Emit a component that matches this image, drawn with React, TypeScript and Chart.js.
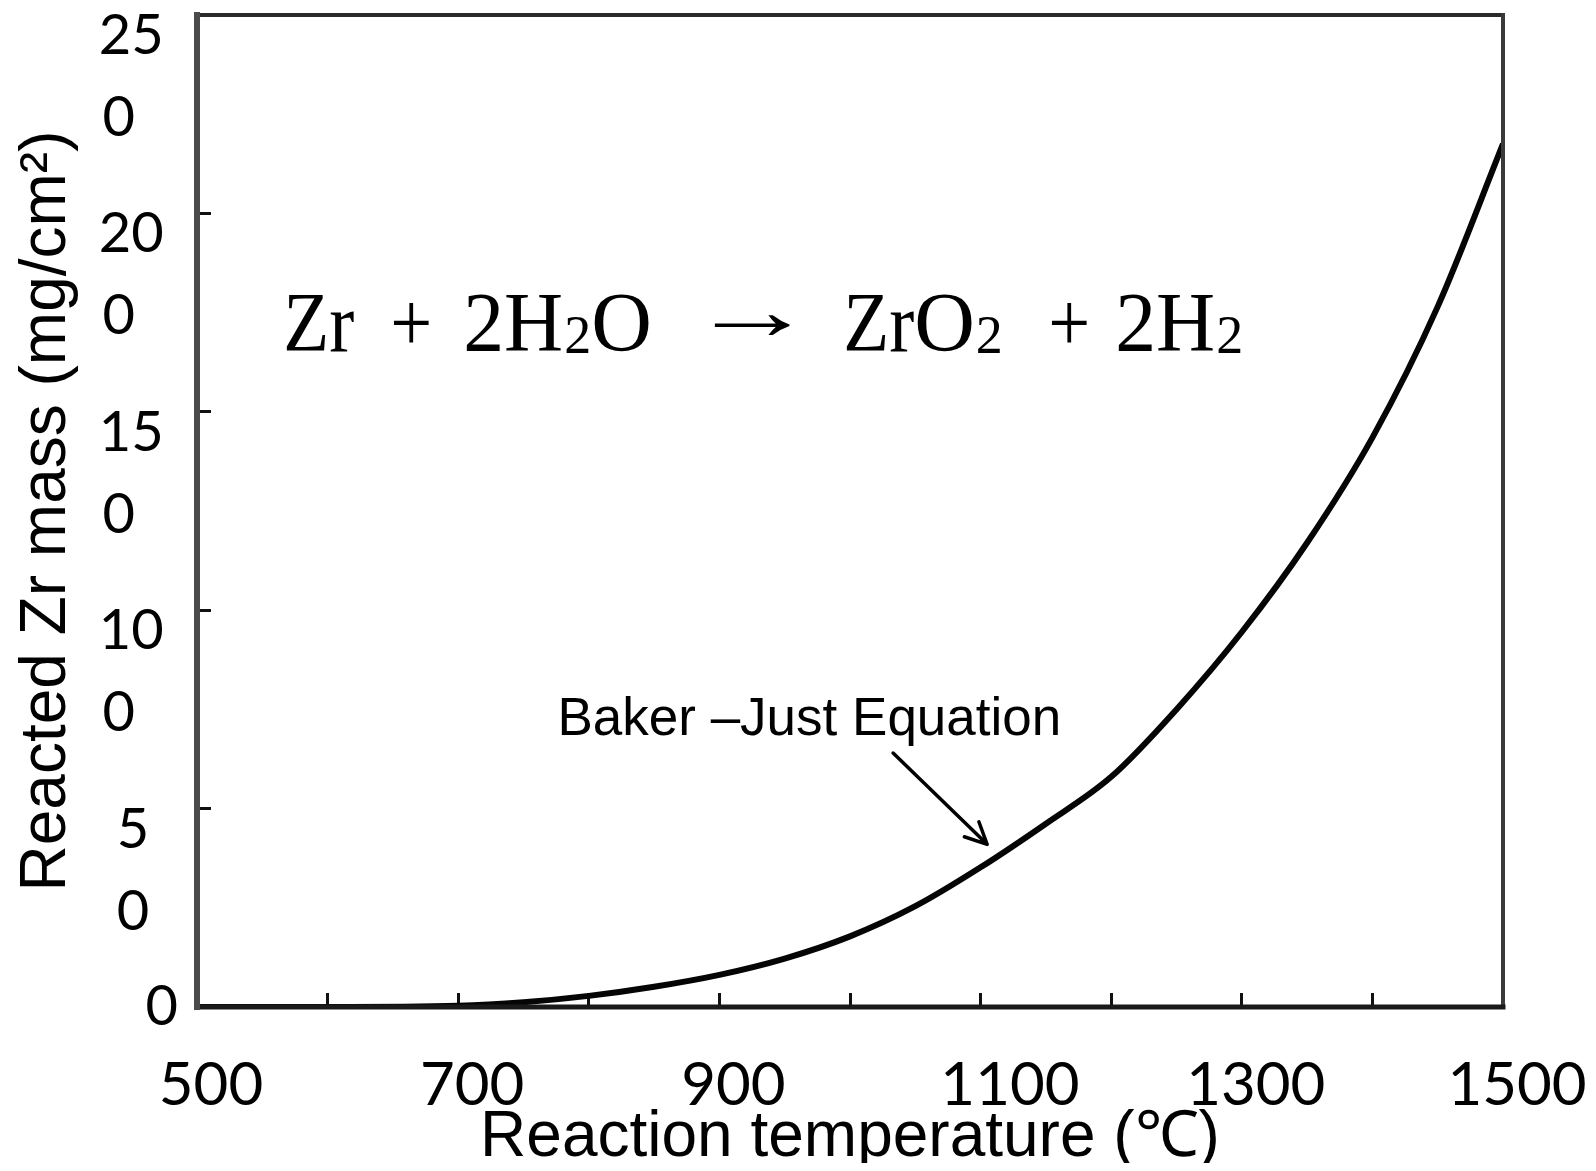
import React, { useEffect, useRef } from 'react';
import { Chart, registerables } from 'chart.js';

Chart.register(...registerables);

// ---- data ----
const temperatures = [500, 600, 700, 750, 800, 850, 900, 950, 1000, 1050, 1100, 1150, 1200, 1250, 1300, 1350, 1400, 1450, 1500];
const reactedMass = [0, 0, 0.3, 1.2, 2.8, 5.1, 8.1, 12.2, 17.8, 25.4, 35.2, 46.2, 58.0, 75.0, 94.5, 117.0, 143.5, 176.5, 217.5];

const xTickLabelValues = [500, 700, 900, 1100, 1300, 1500];
const yTickValues = [0, 50, 100, 150, 200, 250];
const yTickLabels = [['0'], ['5', '0'], ['10', '0'], ['15', '0'], ['20', '0'], ['25', '0']];

const xTitle = 'Reaction temperature (\u2103)';
const yTitle = 'Reacted Zr mass (mg/cm\u00B2)';
const curveLabel = 'Baker \u2013Just Equation';
const formulaParts = ['Zr', '+', '2H', '2', 'O', '\u2192', 'Zr', 'O', '2', '+', '2H', '2'];

// ---- styling helpers ----
function styleYLabel(lines: string[]): string[] {
  if (lines.length === 1) return [lines[0], ''];
  const single = lines[0].length === 1;
  return [lines[0] + ' '.repeat(single ? 2 : 1), lines[1] + ' '.repeat(single ? 2 : 3)];
}

function styleXLabel(v: number): string {
  if (!xTickLabelValues.includes(v)) return '';
  return (v === 1100 ? '  ' : '') + String(v);
}

const framePlugin = {
  id: 'frame',
  afterDatasetsDraw(chart: any) {
    const { ctx, chartArea: a } = chart;
    ctx.save();
    ctx.lineCap = 'square';
    const seg = (x1: number, y1: number, x2: number, y2: number, w: number, c: string) => {
      ctx.beginPath();
      ctx.lineWidth = w;
      ctx.strokeStyle = c;
      ctx.moveTo(x1, y1);
      ctx.lineTo(x2, y2);
      ctx.stroke();
    };
    seg(a.left, a.top, a.right, a.top, 4, '#2a2a2a');
    seg(a.right, a.top, a.right, a.bottom, 4, '#3a3a3a');
    seg(a.left, a.bottom, a.right, a.bottom, 5, '#1a1a1a');
    seg(a.left, a.top, a.left, a.bottom, 6, '#4a4a4a');
    ctx.restore();
  },
};

const annotationPlugin = {
  id: 'annotations',
  afterDatasetsDraw(chart: any) {
    const { ctx } = chart;
    const xs = chart.scales.x;
    const ys = chart.scales.y;
    ctx.save();
    ctx.fillStyle = '#000';
    ctx.textBaseline = 'alphabetic';
    ctx.textAlign = 'left';

    // chemical equation, laid out in groups starting at fixed offsets
    const fx = xs.getPixelForValue(566);
    const fy = ys.getPixelForValue(165.3);
    const starts: (number | null)[] = [0, 107, 180, null, null, 406, 560, null, null, 765, 832, null];
    const kinds = ['m', 'm', 'm', 's', 'm', 'a', 'm', 'm', 's', 'm', 'm', 's'];
    const maxW = [71, 42, 100, 27, 70, 126, 71, 70, 27, 42, 100, 28];
    let cursor = fx;
    formulaParts.forEach((t, i) => {
      const k = kinds[i];
      ctx.font = k === 's' ? '54px "Liberation Serif"' : '84px "Liberation Serif"';
      const st = starts[i];
      if (st !== null) cursor = fx + st;
      const w = ctx.measureText(t).width;
      const sx = k === 'a' ? maxW[i] / w : Math.min(1, maxW[i] / w);
      ctx.save();
      ctx.translate(cursor, fy + (k === 's' ? 2 : k === 'a' ? -12 : 0));
      ctx.scale(sx, 1);
      ctx.fillText(t, 0, 0);
      ctx.restore();
      cursor += w * sx + (k === 'm' && kinds[i + 1] === 's' ? 1 : 0);
    });

    // curve label
    ctx.font = '53px "Liberation Sans"';
    ctx.fillText(curveLabel, xs.getPixelForValue(776), ys.getPixelForValue(68.5));

    // arrow
    const x1 = xs.getPixelForValue(1033);
    const y1 = ys.getPixelForValue(64);
    const x2 = xs.getPixelForValue(1105);
    const y2 = ys.getPixelForValue(41);
    ctx.strokeStyle = '#000';
    ctx.lineWidth = 3.5;
    ctx.lineCap = 'round';
    ctx.beginPath();
    ctx.moveTo(x1, y1);
    ctx.lineTo(x2, y2);
    const ang = Math.atan2(y2 - y1, x2 - x1);
    const hl = 24;
    ctx.moveTo(x2, y2);
    ctx.lineTo(x2 - hl * Math.cos(ang - 0.45), y2 - hl * Math.sin(ang - 0.45));
    ctx.moveTo(x2, y2);
    ctx.lineTo(x2 - hl * Math.cos(ang + 0.45), y2 - hl * Math.sin(ang + 0.45));
    ctx.stroke();
    ctx.restore();
  },
};

export default function App() {
  const canvasRef = useRef<HTMLCanvasElement | null>(null);

  useEffect(() => {
    if (!canvasRef.current) return;
    const chart = new Chart(canvasRef.current, {
      type: 'line',
      data: {
        datasets: [
          {
            label: 'Baker-Just',
            data: temperatures.map((t, i) => ({ x: t, y: reactedMass[i] })),
            borderColor: '#050505',
            borderWidth: 6,
            pointRadius: 0,
            fill: false,
            cubicInterpolationMode: 'monotone',
          },
        ],
      },
      options: {
        animation: false,
        responsive: true,
        maintainAspectRatio: false,
        layout: { padding: { top: 7, right: 85, bottom: 0, left: 0 } },
        plugins: { legend: { display: false }, tooltip: { enabled: false } },
        scales: {
          x: {
            type: 'linear',
            min: 500,
            max: 1500,
            ticks: {
              stepSize: 100,
              autoSkip: false,
              maxRotation: 0,
              minRotation: 0,
              labelOffset: 14,
              padding: 57,
              color: '#000',
              font: { family: 'Lato', size: 60, lineHeight: 1.2 },
              callback: (v: any) => styleXLabel(Number(v)),
            },
            grid: { drawOnChartArea: false, drawTicks: true, tickLength: -14, color: '#111', lineWidth: 3 },
            border: { display: false },
            title: {
              display: true,
              text: xTitle,
              color: '#000',
              font: { family: '"Liberation Sans", Arial, sans-serif', size: 64, lineHeight: 1.03 },
              padding: { top: 0, bottom: 0 },
            },
            afterFit: (s: any) => {
              s.height = 164;
              s.paddingLeft = 0;
              s.paddingRight = 0;
            },
          },
          y: {
            type: 'linear',
            min: 0,
            max: 250,
            ticks: {
              stepSize: 50,
              autoSkip: false,
              labelOffset: 62,
              padding: 33,
              crossAlign: 'near',
              color: '#000',
              font: (ctx: any) => ({
                family: 'Lato',
                size: 56,
                lineHeight: ctx.tick && ctx.tick.value === 0 ? 124 / 56 : 82 / 56,
              }),
              callback: (v: any) => {
                const i = yTickValues.indexOf(Number(v));
                return i >= 0 ? styleYLabel(yTickLabels[i]) : '';
              },
            },
            grid: { drawOnChartArea: false, drawTicks: true, tickLength: -14, color: '#111', lineWidth: 3 },
            border: { display: false },
            title: {
              display: true,
              text: yTitle,
              color: '#000',
              font: { family: '"Liberation Sans", Arial, sans-serif', size: 64, lineHeight: 1.0 },
              padding: { top: 7, bottom: 0 },
            },
            afterFit: (s: any) => {
              s.width = 189;
              s.paddingTop = 0;
              s.paddingBottom = 0;
            },
          },
        },
      } as any,
      plugins: [framePlugin, annotationPlugin],
    });
    return () => chart.destroy();
  }, []);

  return (
    <div style={{ width: 1580, height: 1163, marginBottom: -8, position: 'relative' }}>
      <canvas ref={canvasRef} />
    </div>
  );
}
